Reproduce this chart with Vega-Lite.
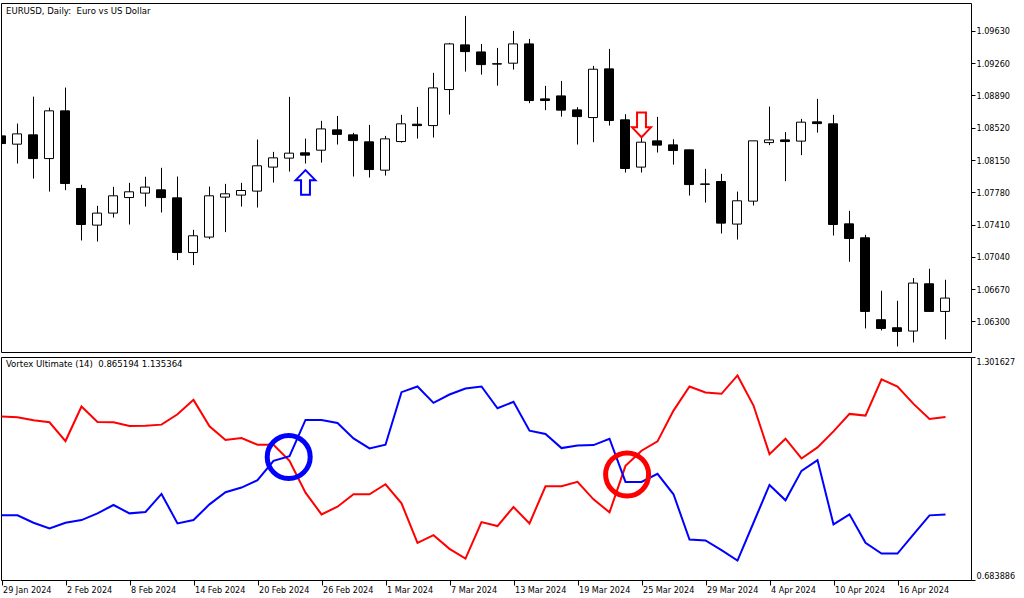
{
  "$schema": "https://vega.github.io/schema/vega-lite/v6.json",
  "padding": {"left": -3, "top": 2, "right": 0, "bottom": 0},
  "background": "white",
  "spacing": 3,
  "config": {
    "view": {"stroke": "#000000", "strokeWidth": 1},
    "font": "DejaVu Sans Condensed, DejaVu Sans",
    "axis": {"labelFont": "DejaVu Sans Condensed, DejaVu Sans", "labelFontSize": 9, "labelColor": "#000000", "tickColor": "#000000", "domain": false, "grid": false, "title": null, "labelOverlap": false}
  },
  "datasets": {
    "ohlc": [
      {"i":0,"o":1.08427,"h":1.08439,"l":1.08324,"c":1.08339},
      {"i":1,"o":1.08332,"h":1.08568,"l":1.08110,"c":1.08450},
      {"i":2,"o":1.08439,"h":1.08877,"l":1.07938,"c":1.08167},
      {"i":3,"o":1.08167,"h":1.08751,"l":1.07789,"c":1.08714},
      {"i":4,"o":1.08714,"h":1.08981,"l":1.07805,"c":1.07881},
      {"i":5,"o":1.07824,"h":1.07866,"l":1.07228,"c":1.07411},
      {"i":6,"o":1.07404,"h":1.07625,"l":1.07216,"c":1.07542},
      {"i":7,"o":1.07542,"h":1.07843,"l":1.07491,"c":1.07740},
      {"i":8,"o":1.07720,"h":1.07889,"l":1.07411,"c":1.07786},
      {"i":9,"o":1.07771,"h":1.07958,"l":1.07617,"c":1.07840},
      {"i":10,"o":1.07809,"h":1.08061,"l":1.07549,"c":1.07720},
      {"i":11,"o":1.07717,"h":1.07961,"l":1.07003,"c":1.07090},
      {"i":12,"o":1.07090,"h":1.07350,"l":1.06946,"c":1.07282},
      {"i":13,"o":1.07267,"h":1.07846,"l":1.07244,"c":1.07740},
      {"i":14,"o":1.07725,"h":1.07877,"l":1.07324,"c":1.07763},
      {"i":15,"o":1.07748,"h":1.07889,"l":1.07617,"c":1.07801},
      {"i":16,"o":1.07794,"h":1.08385,"l":1.07606,"c":1.08084},
      {"i":17,"o":1.08069,"h":1.08244,"l":1.07892,"c":1.08175},
      {"i":18,"o":1.08172,"h":1.08874,"l":1.08018,"c":1.08229},
      {"i":19,"o":1.08233,"h":1.08396,"l":1.08110,"c":1.08206},
      {"i":20,"o":1.08263,"h":1.08599,"l":1.08121,"c":1.08507},
      {"i":21,"o":1.08496,"h":1.08656,"l":1.08328,"c":1.08444},
      {"i":22,"o":1.08439,"h":1.08462,"l":1.07961,"c":1.08373},
      {"i":23,"o":1.08359,"h":1.08553,"l":1.07950,"c":1.08041},
      {"i":24,"o":1.08034,"h":1.08427,"l":1.07972,"c":1.08393},
      {"i":25,"o":1.08362,"h":1.08668,"l":1.08350,"c":1.08565},
      {"i":26,"o":1.08561,"h":1.08759,"l":1.08396,"c":1.08545},
      {"i":27,"o":1.08545,"h":1.09149,"l":1.08408,"c":1.08977},
      {"i":28,"o":1.08958,"h":1.09493,"l":1.08671,"c":1.09481},
      {"i":29,"o":1.09470,"h":1.09802,"l":1.09164,"c":1.09393},
      {"i":30,"o":1.09389,"h":1.09481,"l":1.09129,"c":1.09244},
      {"i":31,"o":1.09254,"h":1.09435,"l":1.09003,"c":1.09250},
      {"i":32,"o":1.09260,"h":1.09630,"l":1.09187,"c":1.09481},
      {"i":33,"o":1.09481,"h":1.09538,"l":1.08802,"c":1.08832},
      {"i":34,"o":1.08851,"h":1.09000,"l":1.08722,"c":1.08832},
      {"i":35,"o":1.08885,"h":1.09057,"l":1.08648,"c":1.08722},
      {"i":36,"o":1.08725,"h":1.08756,"l":1.08328,"c":1.08648},
      {"i":37,"o":1.08637,"h":1.09229,"l":1.08355,"c":1.09191},
      {"i":38,"o":1.09195,"h":1.09424,"l":1.08545,"c":1.08603},
      {"i":39,"o":1.08611,"h":1.08676,"l":1.08007,"c":1.08053},
      {"i":40,"o":1.08069,"h":1.08408,"l":1.08007,"c":1.08355},
      {"i":41,"o":1.08370,"h":1.08645,"l":1.08236,"c":1.08321},
      {"i":42,"o":1.08324,"h":1.08389,"l":1.08098,"c":1.08259},
      {"i":43,"o":1.08267,"h":1.08267,"l":1.07743,"c":1.07869},
      {"i":44,"o":1.07876,"h":1.08049,"l":1.07663,"c":1.07872},
      {"i":45,"o":1.07904,"h":1.07992,"l":1.07308,"c":1.07427},
      {"i":46,"o":1.07416,"h":1.07789,"l":1.07239,"c":1.07683},
      {"i":47,"o":1.07679,"h":1.08370,"l":1.07629,"c":1.08370},
      {"i":48,"o":1.08350,"h":1.08763,"l":1.08321,"c":1.08381},
      {"i":49,"o":1.08381,"h":1.08470,"l":1.07908,"c":1.08362},
      {"i":50,"o":1.08367,"h":1.08622,"l":1.08206,"c":1.08584},
      {"i":51,"o":1.08588,"h":1.08851,"l":1.08465,"c":1.08568},
      {"i":52,"o":1.08565,"h":1.08668,"l":1.07285,"c":1.07411},
      {"i":53,"o":1.07419,"h":1.07568,"l":1.06984,"c":1.07251},
      {"i":54,"o":1.07259,"h":1.07293,"l":1.06220,"c":1.06415},
      {"i":55,"o":1.06320,"h":1.06652,"l":1.06197,"c":1.06220},
      {"i":56,"o":1.06228,"h":1.06537,"l":1.06014,"c":1.06186},
      {"i":57,"o":1.06190,"h":1.06797,"l":1.06060,"c":1.06740},
      {"i":58,"o":1.06732,"h":1.06904,"l":1.06415,"c":1.06415},
      {"i":59,"o":1.06415,"h":1.06778,"l":1.06094,"c":1.06568}
    ],
    "arrows": [
      {"i":19,"p":1.07892,"kind":"up"},
      {"i":40,"p":1.08553,"kind":"down"}
    ],
    "vortex": [
      {"i":0,"vp":0.86291,"vm":1.13653},
      {"i":1,"vp":0.86291,"vm":1.13467},
      {"i":2,"vp":0.84250,"vm":1.12632},
      {"i":3,"vp":0.82673,"vm":1.12076},
      {"i":4,"vp":0.84250,"vm":1.06882},
      {"i":5,"vp":0.84992,"vm":1.16435},
      {"i":6,"vp":0.86847,"vm":1.12169},
      {"i":7,"vp":0.89166,"vm":1.12076},
      {"i":8,"vp":0.86847,"vm":1.11056},
      {"i":9,"vp":0.87218,"vm":1.11148},
      {"i":10,"vp":0.92227,"vm":1.11427},
      {"i":11,"vp":0.84065,"vm":1.14302},
      {"i":12,"vp":0.84992,"vm":1.18290},
      {"i":13,"vp":0.89351,"vm":1.10963},
      {"i":14,"vp":0.92691,"vm":1.07160},
      {"i":15,"vp":0.93989,"vm":1.07717},
      {"i":16,"vp":0.96030,"vm":1.05861},
      {"i":17,"vp":1.01409,"vm":1.05861},
      {"i":18,"vp":1.02708,"vm":1.01409},
      {"i":19,"vp":1.12725,"vm":0.92598},
      {"i":20,"vp":1.12725,"vm":0.86569},
      {"i":21,"vp":1.11890,"vm":0.88702},
      {"i":22,"vp":1.07624,"vm":0.92134},
      {"i":23,"vp":1.04841,"vm":0.92134},
      {"i":24,"vp":1.05861,"vm":0.94917},
      {"i":25,"vp":1.20424,"vm":0.89630},
      {"i":26,"vp":1.22000,"vm":0.78685},
      {"i":27,"vp":1.17456,"vm":0.80818},
      {"i":28,"vp":1.19774,"vm":0.77015},
      {"i":29,"vp":1.21444,"vm":0.74325},
      {"i":30,"vp":1.22000,"vm":0.84436},
      {"i":31,"vp":1.15972,"vm":0.83322},
      {"i":32,"vp":1.17734,"vm":0.88609},
      {"i":33,"vp":1.09757,"vm":0.84065},
      {"i":34,"vp":1.08830,"vm":0.94360},
      {"i":35,"vp":1.04934,"vm":0.94360},
      {"i":36,"vp":1.05676,"vm":0.95566},
      {"i":37,"vp":1.05769,"vm":0.90743},
      {"i":38,"vp":1.07531,"vm":0.87125},
      {"i":39,"vp":0.95566,"vm":1.00018},
      {"i":40,"vp":0.95566,"vm":1.04192},
      {"i":41,"vp":0.97792,"vm":1.06789},
      {"i":42,"vp":0.92134,"vm":1.15322},
      {"i":43,"vp":0.79612,"vm":1.22000},
      {"i":44,"vp":0.79334,"vm":1.20331},
      {"i":45,"vp":0.76644,"vm":1.19960},
      {"i":46,"vp":0.73769,"vm":1.25061},
      {"i":47,"vp":0.84250,"vm":1.16714},
      {"i":48,"vp":0.94731,"vm":1.03264},
      {"i":49,"vp":0.90464,"vm":1.07531},
      {"i":50,"vp":0.98627,"vm":1.02059},
      {"i":51,"vp":1.01595,"vm":1.05119},
      {"i":52,"vp":0.83786,"vm":1.09572},
      {"i":53,"vp":0.86569,"vm":1.14395},
      {"i":54,"vp":0.78685,"vm":1.13931},
      {"i":55,"vp":0.75717,"vm":1.23948},
      {"i":56,"vp":0.75717,"vm":1.22000},
      {"i":57,"vp":0.81004,"vm":1.17177},
      {"i":58,"vp":0.86291,"vm":1.13003},
      {"i":59,"vp":0.865194,"vm":1.135364}
    ],
    "rings": [
      {"i":17.95,"v":1.0245,"col":"blue"},
      {"i":39.1,"v":0.9760,"col":"red"}
    ]
  },
  "vconcat": [
    {
      "width": 970,
      "height": 349,
      "title": {"text": "EURUSD, Daily:\u00a0 Euro vs US Dollar", "anchor": "start", "frame": "group", "offset": -12, "dx": 5, "fontSize": 9.5, "fontWeight": "normal", "color": "#000000", "font": "DejaVu Sans Condensed, DejaVu Sans"},
      "data": {"name": "ohlc"},
      "encoding": {
        "x": {"field": "i", "type": "quantitative", "scale": {"domain": [-0.03125, 60.59375], "nice": false, "zero": false, "padding": 0}, "axis": null}
      },
      "layer": [
        {
          "mark": {"type": "rule", "color": "#000000", "strokeWidth": 1, "clip": true},
          "encoding": {
            "y": {"field": "l", "type": "quantitative", "scale": {"domain": [1.0595, 1.0995], "nice": false, "zero": false, "padding": 0},
                  "axis": {"orient": "right", "values": [1.063, 1.0667, 1.0704, 1.0741, 1.0778, 1.0815, 1.0852, 1.0889, 1.0926, 1.0963], "tickCount": 30, "format": ".5f", "tickSize": 4, "labelPadding": 1, "labelFlush": false, "labelOverlap": false}},
            "y2": {"field": "h"}
          }
        },
        {
          "mark": {"type": "bar", "width": 9, "xOffset": -0.5, "stroke": "#000000", "strokeWidth": 1, "clip": true},
          "encoding": {
            "y": {"field": "o", "type": "quantitative"},
            "y2": {"field": "c"},
            "fill": {"condition": {"test": "datum.c >= datum.o", "value": "#ffffff"}, "value": "#000000"}
          }
        },
        {
          "data": {"name": "arrows"},
          "mark": {"type": "point", "filled": true, "size": 729, "strokeWidth": 2, "opacity": 1, "fill": "#ffffff"},
          "encoding": {
            "y": {"field": "p", "type": "quantitative"},
            "shape": {"field": "kind", "type": "nominal", "legend": null,
                      "scale": {"domain": ["up", "down"], "range": ["M0,-0.92L0.73,-0.18L0.33,-0.18L0.33,0.91L-0.33,0.91L-0.33,-0.18L-0.73,-0.18Z", "M0,0.92L0.7,0.18L0.33,0.18L0.33,-0.91L-0.33,-0.91L-0.33,0.18L-0.7,0.18Z"]}},
            "stroke": {"field": "kind", "type": "nominal", "legend": null, "scale": {"domain": ["up", "down"], "range": ["#0000ff", "#ff0000"]}}
          }
        }
      ]
    },
    {
      "width": 970,
      "height": 223,
      "title": {"text": "Vortex Ultimate (14)\u00a0 0.865194 1.135364", "anchor": "start", "frame": "group", "offset": -12, "dx": 5, "fontSize": 9.5, "fontWeight": "normal", "color": "#000000", "font": "DejaVu Sans Condensed, DejaVu Sans"},
      "data": {"name": "vortex"},
      "encoding": {
        "x": {"field": "i", "type": "quantitative", "scale": {"domain": [-0.03125, 60.59375], "nice": false, "zero": false, "padding": 0},
              "axis": {"orient": "bottom", "values": [0, 4, 8, 12, 16, 20, 24, 28, 32, 36, 40, 44, 48, 52, 56], "tickCount": 40, "tickSize": 5, "labelAlign": "left", "labelBaseline": "top", "labelPadding": 0, "labelOffset": 1, "labelFlush": false, "labelOverlap": false,
                       "labelExpr": "['29 Jan 2024','2 Feb 2024','8 Feb 2024','14 Feb 2024','20 Feb 2024','26 Feb 2024','1 Mar 2024','7 Mar 2024','13 Mar 2024','19 Mar 2024','25 Mar 2024','29 Mar 2024','4 Apr 2024','10 Apr 2024','16 Apr 2024'][round(datum.value / 4)]"}}
      },
      "layer": [
        {
          "mark": {"type": "line", "color": "#ff0000", "strokeWidth": 2},
          "encoding": {
            "y": {"field": "vm", "type": "quantitative", "scale": {"domain": [0.683886, 1.301627], "nice": false, "zero": false, "padding": 0},
                  "axis": {"orient": "right", "values": [0.683886, 1.301627], "format": ".6f", "tickSize": 4, "labelPadding": 1, "labelFlush": true}}
          }
        },
        {
          "mark": {"type": "line", "color": "#0000ff", "strokeWidth": 2},
          "encoding": {
            "y": {"field": "vp", "type": "quantitative"}
          }
        },
        {
          "data": {"name": "rings"},
          "mark": {"type": "point", "shape": "circle", "filled": false, "size": 1849, "strokeWidth": 5, "opacity": 1},
          "encoding": {
            "y": {"field": "v", "type": "quantitative"},
            "stroke": {"field": "col", "type": "nominal", "legend": null, "scale": {"domain": ["blue", "red"], "range": ["#0000ff", "#ff0000"]}}
          }
        }
      ]
    }
  ]
}
